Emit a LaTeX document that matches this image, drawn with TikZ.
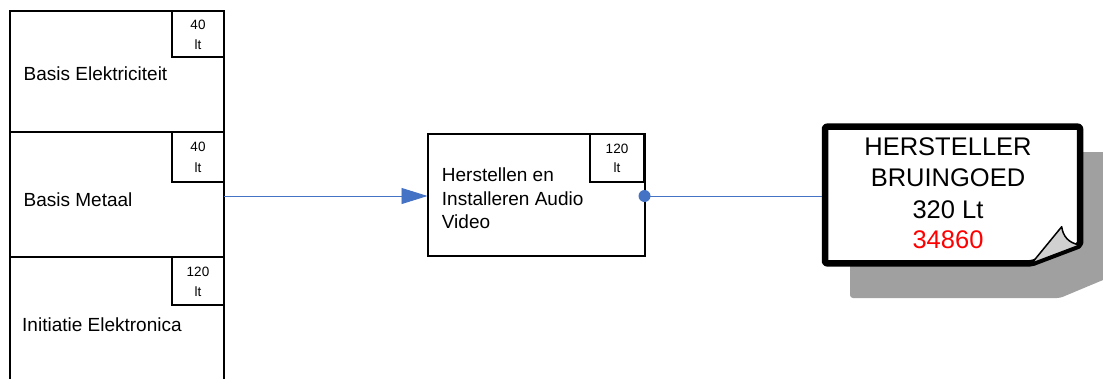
\documentclass[tikz,border=0pt]{standalone}
\usepackage{fontspec}
\setmainfont{Liberation Sans}
\usetikzlibrary{arrows.meta}
\definecolor{linkblue}{HTML}{4472C4}
\definecolor{shadowgray}{HTML}{A0A0A0}
\definecolor{curlgray}{HTML}{D0D0D0}
\begin{document}
\begin{tikzpicture}[x=1pt,y=-1pt,
  coursebox/.style={draw=black, line width=2pt, fill=white, inner sep=0pt, outer sep=0pt},
  hourbox/.style={draw=black, line width=2pt, inner sep=0pt, outer sep=0pt, minimum width=52pt},
  bodytext/.style={inner sep=0pt, anchor=base west, font=\fontsize{19}{23}\selectfont},
  smalltext/.style={inner sep=0pt, anchor=base, font=\fontsize{13.5}{16}\selectfont},
  notetext/.style={inner sep=0pt, anchor=base, font=\fontsize{25.5}{31}\selectfont},
  link/.style={draw=linkblue, line width=0.9pt}
]
\useasboundingbox (0,0) rectangle (1103,378);

% left column
\node[coursebox, minimum width=214pt, minimum height=121pt] (box1) at (117,71.5) {};
\node[coursebox, minimum width=214pt, minimum height=125pt] (box2) at (117,194.5) {};
\node[coursebox, minimum width=214pt, minimum height=143pt] (box3) at (117,328.5) {};
\node[hourbox, minimum height=46pt] (h1) at (198,34) {};
\node[hourbox, minimum height=50pt] (h2) at (198,157) {};
\node[hourbox, minimum height=48pt] (h3) at (198,281) {};
\node[smalltext] (h1a) at (198,29.3) {40};
\node[smalltext] (h1b) at (198,49) {lt};
\node[smalltext] (h2a) at (198,151.7) {40};
\node[smalltext] (h2b) at (198,172.3) {lt};
\node[smalltext] (h3a) at (198,276) {120};
\node[smalltext] (h3b) at (198,296.7) {lt};
\node[bodytext] (t1) at (23.5,80.5) {Basis Elektriciteit};
\node[bodytext] (t2) at (23.5,206.5) {Basis Metaal};
\node[bodytext] (t3) at (22,331.5) {Initiatie Elektronica};

% middle
\node[coursebox, minimum width=217pt, minimum height=122pt] (mid) at (536,195) {};
\node[hourbox, minimum width=54pt, minimum height=48pt] (mh) at (617,158) {};
\node[smalltext] (mha) at (617,153.3) {120};
\node[smalltext] (mhb) at (617,172.7) {lt};
\node[bodytext] (m1) at (441.7,181.7) {Herstellen en};
\node[bodytext] (m2) at (441.7,205) {Installeren Audio};
\node[bodytext] (m3) at (441.7,228.3) {Video};

% note with shadow
\fill[shadowgray, rounded corners=3pt] (850,152) -- (1110,152) -- (1110,278) -- (1103,280) -- (1060,298) -- (850,298) -- cycle;
\draw[line width=6.5pt, fill=white, rounded corners=2pt, line join=round] (825,126.7) -- (1080,126.7) -- (1080,245) -- (1031.7,263.3) -- (825,263.3) -- cycle;
\draw[line width=1.5pt, fill=curlgray, line join=round] (1031.7,263.3) -- (1061.7,226.7) .. controls (1063,236) and (1068,243) .. (1080,245) -- cycle;
\coordinate (notein) at (822,196);
\node[notetext] (n1) at (948,155) {HERSTELLER};
\node[notetext] (n2) at (948,186) {BRUINGOED};
\node[notetext] (n3) at (948,218.3) {320 Lt};
\node[notetext, text=red] (n4) at (948,248.3) {34860};

% connectors
\draw[link, -{Triangle[length=26pt,width=16pt]}] (box2.east |- 0,196) -- (mid.west |- 0,196);
\draw[link] (mid.east |- 0,196) -- (notein);
\fill[linkblue] (mid.east |- 0,196) circle (6pt);
\end{tikzpicture}
\end{document}
